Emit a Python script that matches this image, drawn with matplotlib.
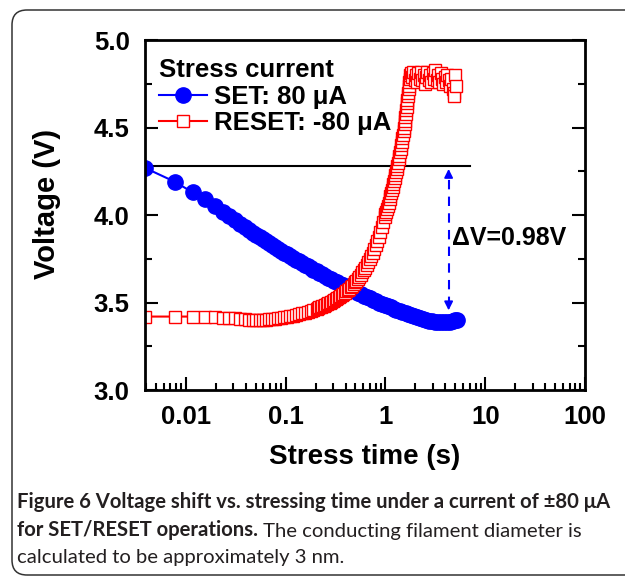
#voltage shift vs stress time (SET/RESET at +/-80 uA), log time axis

import matplotlib
matplotlib.use('Agg')
import matplotlib.pyplot as plt
from matplotlib.patches import FancyBboxPatch

#data:
set_t = [0.0039, 0.0078, 0.0117, 0.0156, 0.0195, 0.0234, 0.0273, 0.0312, 0.0351, 0.039,
         0.043, 0.047, 0.051, 0.055, 0.059, 0.063, 0.068, 0.073, 0.078, 0.084,
         0.09, 0.096, 0.103, 0.11, 0.118, 0.126, 0.135, 0.145, 0.155, 0.166,
         0.178, 0.19, 0.204, 0.218, 0.233, 0.25, 0.268, 0.287, 0.307, 0.329,
         0.352, 0.377, 0.404, 0.432, 0.463, 0.496, 0.531, 0.569, 0.609, 0.652,
         0.698, 0.748, 0.8, 0.857, 0.918, 0.983, 1.05, 1.13, 1.21, 1.29,
         1.39, 1.48, 1.59, 1.7, 1.82, 1.95, 2.09, 2.24, 2.4, 2.57,
         2.75, 2.94, 3.15, 3.38, 3.62, 3.87, 4.15, 4.44, 4.75, 5.0,
         5.2]
set_v = [4.27, 4.19, 4.13, 4.09, 4.05, 4.02, 3.995, 3.97, 3.95, 3.93,
         3.915, 3.90, 3.885, 3.873, 3.862, 3.851, 3.84, 3.828, 3.818, 3.806,
         3.795, 3.785, 3.775, 3.765, 3.755, 3.745, 3.735, 3.725, 3.716, 3.707,
         3.697, 3.688, 3.679, 3.67, 3.661, 3.652, 3.643, 3.634, 3.625, 3.616,
         3.607, 3.598, 3.589, 3.58, 3.572, 3.564, 3.556, 3.548, 3.54, 3.532,
         3.524, 3.516, 3.508, 3.5, 3.493, 3.486, 3.479, 3.472, 3.465, 3.458,
         3.451, 3.445, 3.439, 3.433, 3.427, 3.421, 3.415, 3.41, 3.405, 3.401,
         3.397, 3.394, 3.391, 3.389, 3.388, 3.388, 3.389, 3.391, 3.395, 3.40,
         3.402]

reset_t = [0.0039, 0.0078, 0.0117, 0.0156, 0.0195, 0.0234, 0.0273, 0.0312, 0.0351, 0.039,
           0.043, 0.047, 0.051, 0.055, 0.059, 0.063, 0.068, 0.073, 0.078, 0.084,
           0.09, 0.096, 0.103, 0.11, 0.118, 0.126, 0.135, 0.145, 0.155, 0.166,
           0.178, 0.19, 0.204, 0.211, 0.218, 0.225, 0.233, 0.241, 0.25, 0.259,
           0.268, 0.277, 0.287, 0.297, 0.307, 0.318, 0.329, 0.34, 0.352, 0.364,
           0.377, 0.39, 0.404, 0.418, 0.432, 0.447, 0.463, 0.479, 0.496, 0.513,
           0.531, 0.55, 0.569, 0.589, 0.609, 0.63, 0.652, 0.675, 0.698, 0.723,
           0.748, 0.774, 0.8, 0.828, 0.857, 0.887, 0.918, 0.95, 0.983, 1.0,
           1.02, 1.04, 1.06, 1.08, 1.1, 1.12, 1.14, 1.16, 1.18, 1.2,
           1.22, 1.24, 1.26, 1.28, 1.3, 1.32, 1.34, 1.36, 1.38, 1.4,
           1.42, 1.44, 1.46, 1.48, 1.5, 1.52, 1.54, 1.555, 1.57, 1.585,
           1.6, 1.615, 1.63, 1.645, 1.66, 1.675, 1.69, 1.705, 1.72, 1.735,
           1.75, 1.77, 1.8, 1.85, 1.9, 1.96, 2.02, 2.08, 2.14, 2.2,
           2.27, 2.34, 2.41, 2.48, 2.56, 2.64, 2.72, 2.8, 2.89, 2.98,
           3.07, 3.17, 3.27, 3.37, 3.47, 3.58, 3.69, 3.8, 3.92, 4.04,
           4.17, 4.3, 4.43, 4.57, 4.71, 4.85, 4.92, 5.0, 5.05]
reset_v = [3.42, 3.42, 3.42, 3.418, 3.416, 3.414, 3.412, 3.41, 3.408, 3.405,
           3.403, 3.401, 3.40, 3.40, 3.401, 3.402, 3.404, 3.406, 3.408, 3.41,
           3.413, 3.416, 3.419, 3.422, 3.426, 3.43, 3.434, 3.438, 3.443, 3.448,
           3.453, 3.459, 3.465, 3.468, 3.472, 3.475, 3.479, 3.483, 3.487, 3.491,
           3.495, 3.50, 3.504, 3.509, 3.514, 3.519, 3.525, 3.531, 3.537, 3.543,
           3.55, 3.557, 3.564, 3.571, 3.579, 3.587, 3.596, 3.605, 3.615, 3.625,
           3.636, 3.647, 3.659, 3.672, 3.685, 3.699, 3.714, 3.73, 3.747, 3.766,
           3.785, 3.806, 3.828, 3.852, 3.876, 3.902, 3.93, 3.958, 3.988, 4.004,
           4.02, 4.037, 4.055, 4.072, 4.09, 4.107, 4.125, 4.142, 4.16, 4.177,
           4.195, 4.212, 4.23, 4.247, 4.265, 4.282, 4.30, 4.32, 4.34, 4.36,
           4.38, 4.40, 4.42, 4.44, 4.46, 4.48, 4.50, 4.52, 4.54, 4.56,
           4.58, 4.60, 4.62, 4.64, 4.66, 4.68, 4.70, 4.72, 4.74, 4.76,
           4.78, 4.80, 4.81, 4.79, 4.82, 4.77, 4.80, 4.76, 4.81, 4.78,
           4.82, 4.77, 4.80, 4.75, 4.79, 4.82, 4.77, 4.80, 4.76, 4.81,
           4.78, 4.83, 4.77, 4.80, 4.76, 4.81, 4.78, 4.75, 4.79, 4.76,
           4.80, 4.77, 4.74, 4.78, 4.72, 4.70, 4.68, 4.80, 4.74]

ref_level = 4.28   # horizontal reference line (initial SET voltage)
ref_end = 7.1
arrow_t = 4.3
arrow_low = 3.44
dv_label = '\u0394V=0.98V'

#plotting:
plt.close('all')
plt.rcParams['font.family'] = ['Liberation Sans', 'DejaVu Sans']
plt.rcParams['font.weight'] = 'bold'

fig = plt.figure(figsize=(6.25, 5.83), dpi=100)
ax = fig.add_axes([0.232, 0.331, 0.704, 0.600])

ax.plot(set_t, set_v, '-o', color='#0000ff', lw=1.5, ms=11, label='SET: 80 \u03bcA')
ax.plot(reset_t, reset_v, '-s', color='#ff0000', lw=1.5, ms=8.5, mfc='white', mec='#ff0000',
        mew=1.0, label='RESET: -80 \u03bcA')

ax.plot([set_t[0], ref_end], [ref_level, ref_level], color='black', lw=1.5, zorder=1)
ax.plot([arrow_t, arrow_t], [arrow_low + 0.04, ref_level - 0.04], color='#0000ff', lw=1.5, dashes=(4.5, 3.5))
ax.annotate('', xy=(arrow_t, ref_level), xytext=(arrow_t, ref_level - 0.06),
            arrowprops=dict(arrowstyle='-|>', color='#0000ff', lw=1.2, mutation_scale=13))
ax.annotate('', xy=(arrow_t, arrow_low), xytext=(arrow_t, arrow_low + 0.06),
            arrowprops=dict(arrowstyle='-|>', color='#0000ff', lw=1.2, mutation_scale=13))
ax.text(4.65, 3.87, dv_label, fontsize=18, fontweight='bold', ha='left', va='center')

ax.set_xscale('log')
ax.set_xlim(0.0039, 100)
ax.set_ylim(3.0, 5.0)
ax.set_yticks([3.0, 3.5, 4.0, 4.5, 5.0])
ax.set_yticks([3.25, 3.75, 4.25, 4.75], minor=True)
ax.set_xticks([0.01, 0.1, 1, 10, 100])
ax.set_xticklabels(['0.01', '0.1', '1', '10', '100'])

for s in ax.spines.values():
    s.set_linewidth(2)
ax.tick_params(which='both', direction='in', width=1.5, right=True, top=False, labelsize=18.5, pad=11)
ax.tick_params(which='major', length=9.5)
ax.tick_params(which='minor', length=5)

ax.set_xlabel('Stress time (s)', fontsize=20, fontweight='bold')
ax.set_ylabel('Voltage (V)', fontsize=21, fontweight='bold')
ax.xaxis.set_label_coords(0.5, -0.155)
ax.yaxis.set_label_coords(-0.19, 0.531)

#legend:
leg = ax.legend(loc='upper left', bbox_to_anchor=(-0.01, 1.0), frameon=False, title='Stress current',
                prop=dict(size=18.5, weight='bold'), title_fontproperties=dict(size=18.5, weight='bold'),
                alignment='left', handlelength=1.9, handletextpad=0.25, labelspacing=0.1,
                borderaxespad=0.3, numpoints=1)

#caption and frame:
frame = FancyBboxPatch((0.12, 0.08), 6.5, 5.65, boxstyle='round,pad=0,rounding_size=0.15',
                       transform=fig.dpi_scale_trans, fc='none', ec='#333333', lw=1.1)
fig.patches.append(frame)

cap_font = ['Lato', 'DejaVu Sans']
cap = dict(family=cap_font, fontsize=14.6, va='baseline', ha='left', color='#231f20')
fig.text(17/625, 1 - 508/583, 'Figure 6 Voltage shift vs. stressing time under a current of \u00b180 \u03bcA',
         fontweight='bold', **cap)
t2 = fig.text(17/625, 1 - 536/583, 'for SET/RESET operations.', fontweight='bold', **cap)
fig.text(17/625, 1 - 563/583, 'calculated to be approximately 3 nm.', fontweight='normal', **cap)
ax.annotate(' The conducting filament diameter is', xy=(1, 0), xycoords=t2, fontweight='normal',
            family=cap_font, fontsize=14.6, va='bottom', ha='left',
            color='#231f20', annotation_clip=False)

fig.savefig('out.png', dpi=100)
